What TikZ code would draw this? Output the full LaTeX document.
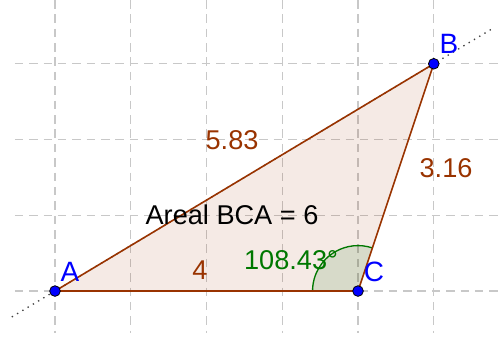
\documentclass[tikz,border=0pt]{standalone}
\usepackage{fontspec}
\setmainfont{Liberation Sans}
\definecolor{side}{RGB}{153,51,0}
\definecolor{agreen}{RGB}{0,120,0}
\definecolor{afill}{RGB}{0,100,0}
\definecolor{gridc}{RGB}{200,200,200}
\definecolor{ptblue}{RGB}{0,0,255}
\begin{document}
\begin{tikzpicture}[x=1cm,y=1cm,
  gridline/.style={gridc,line width=0.5pt,dash pattern=on 3.2pt off 2.2pt},
  sideline/.style={side,line width=0.6pt},
  pt/.style={circle,fill=ptblue,draw=black,line width=0.3pt,inner sep=0pt,minimum size=4pt},
  ptlabel/.style={text=ptblue,font=\fontsize{10.5}{12}\selectfont},
  sidelabel/.style={text=side,font=\fontsize{10.2}{12}\selectfont},
  txt/.style={font=\fontsize{10.2}{12}\selectfont}]
\useasboundingbox (-0.726,-0.620) rectangle (5.848,3.842);
% grid
\foreach \x in {0,...,5} \draw[gridline] (\x,3.842) -- (\x,-0.555);
\foreach \y in {0,...,3} \draw[gridline] (-0.53,\y) -- (5.848,\y);
% dotted line through A and B
\coordinate (L1) at (-0.57,-0.342);
\coordinate (L2) at (5.80,3.48);
\draw[black!75,line width=0.5pt,dash pattern=on 0.5pt off 1.8pt] (L1) -- (L2);
% triangle
\coordinate (a) at (0,0);
\coordinate (b) at (5,3);
\coordinate (c) at (4,0);
\fill[side,fill opacity=0.1] (a) -- (b) -- (c) -- cycle;
% angle
\fill[afill,fill opacity=0.12] (c) -- ++(180:0.6) arc (180:71.565:0.6) -- cycle;
\draw[agreen,line width=0.5pt] (c) ++(180:0.6) arc (180:71.565:0.6);
\draw[sideline] (a) -- (b) -- (c) -- cycle;
% points
\node[pt] (A) at (a) {};
\node[pt] (B) at (b) {};
\node[pt] (C) at (c) {};
\node[ptlabel] (lA) at (0.198,0.251) {A};
\node[ptlabel] (lB) at (5.201,3.261) {B};
\node[ptlabel] (lC) at (4.211,0.251) {C};
% labels
\node[sidelabel] (sAB) at (2.337,1.993) {5.83};
\node[sidelabel] (sBC) at (5.162,1.624) {3.16};
\node[sidelabel] (sAC) at (1.914,0.277) {4};
\node[txt] (area) at (2.337,1.003) {Areal BCA = 6};
\node[txt,text=agreen] (ang) at (3.116,0.409) {108.43°};
\end{tikzpicture}
\end{document}
